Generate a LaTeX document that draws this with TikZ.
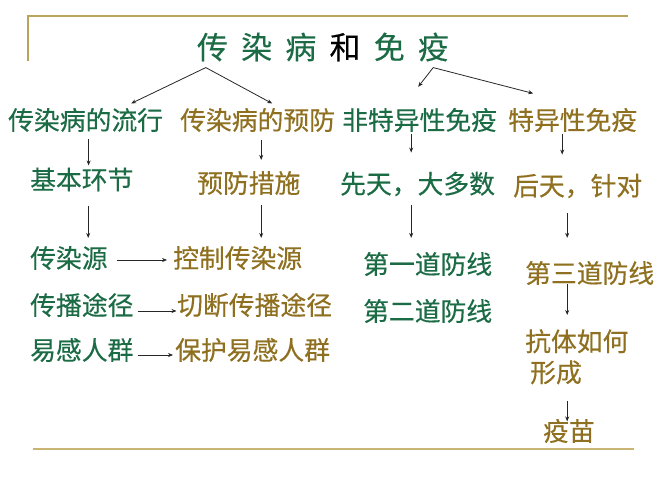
\documentclass[tikz,border=0pt]{standalone}
\usepackage{fontspec}
\setmainfont{Noto Sans CJK SC}
\newfontfamily\lblfont[FakeBold=0.35]{Noto Sans CJK SC}
\usetikzlibrary{calc,arrows.meta}
\definecolor{cgreen}{HTML}{1B6B45}
\definecolor{cgold}{HTML}{8F7020}
\definecolor{cline}{HTML}{B9A45A}
\definecolor{clinetwo}{HTML}{C9B474}
\begin{document}
\begin{tikzpicture}[x=1pt,y=-1pt,
 lbl/.style={inner sep=0pt,anchor=west,font=\lblfont\fontsize{25.8}{31}\selectfont},
 gr/.style={lbl,text=cgreen},
 go/.style={lbl,text=cgold},
 arr/.style={draw=black!85,line width=0.8pt,-{Stealth[length=5pt,width=4pt]}}]
\useasboundingbox (0,0) rectangle (667,500);
% frame lines
\draw[cline,line width=1.5pt] (28,61) -- (28,16) -- (628,16);
\draw[clinetwo,line width=2.5pt] (33,449) -- (634,449);
% title
\node[inner sep=0pt,font=\lblfont\fontsize{31}{36}\selectfont,text=cgreen] (title) at (323,47)
 {传\hspace{13.2pt}染\hspace{13.2pt}病\hspace{13.2pt}\textcolor{black}{和}\hspace{13.2pt}免\hspace{13.2pt}疫};
% row 1
\node[gr] (r1a) at (8,120) {传染病的流行};
\node[go] (r1b) at (180,120) {传染病的预防};
\node[gr] (r1c) at (342,120) {非特异性免疫};
\node[go] (r1d) at (508,120) {特异性免疫};
% row 2
\node[gr] (r2a) at (30,179.5) {基本环节};
\node[go] (r2b) at (197,183) {预防措施};
\node[gr] (r2c) at (340,184) {先天，大多数};
\node[go] (r2d) at (513,186) {后天，针对};
% rows 3-5
\node[gr] (s1) at (30,258) {传染源};
\node[go] (c1) at (173,258) {控制传染源};
\node[gr] (s2) at (30,305) {传播途径};
\node[go] (c2) at (177,305) {切断传播途径};
\node[gr] (s3) at (30,350) {易感人群};
\node[go] (c3) at (175,350) {保护易感人群};
\node[gr] (d1) at (363,264) {第一道防线};
\node[gr] (d2) at (363,311) {第二道防线};
\node[go] (d3) at (525,273) {第三道防线};
\node[go,anchor=north west,align=left] (k) at (525,329) {抗体如何\\\hspace*{5pt}形成};
\node[go] (v) at (543,431) {疫苗};
% title arrows
\coordinate (ap1) at ($(title.south west)+(9,6)$);
\coordinate (ap2) at ($(title.south east)+(-16,6)$);
\draw[arr] (ap1) -- ($(r1a.north)+(45.6,-4.4)$);
\draw[arr] (ap1) -- ($(r1b.north)+(14.6,-4.4)$);
\draw[arr] (ap2) -- ($(r1c.north)+(-1.4,-21)$);
\draw[arr] (ap2) -- ($(r1d.north)+(-39.5,-14.4)$);
% row1 -> row2
\draw[arr,shorten >=2pt] (r1a.south) ++(3,7) coordinate (a1) -- (a1 |- r2a.north);
\draw[arr,shorten >=11pt] (r1b.south) ++(3.6,7.5) coordinate (a2) -- (a2 |- r2b.north);
\draw[arr,shorten >=19pt] (r1c.south) ++(-8.4,1.5) coordinate (a3) -- (a3 |- r2c.north);
\draw[arr,shorten >=19pt] (r1d.south) ++(-10.5,1.5) coordinate (a4) -- (a4 |- r2d.north);
% row2 -> row3
\draw[arr,shorten >=8pt] (r2a.south) ++(6.4,14) coordinate (b1) -- (b1 |- s1.north);
\draw[arr,shorten >=8pt] (r2b.south) ++(12.4,10.4) coordinate (b2) -- (b2 |- c1.north);
\draw[arr,shorten >=14pt] (r2c.south) ++(-6.4,9) coordinate (b3) -- (b3 |- d1.north);
\draw[arr,shorten >=23pt] (r2d.south) ++(-10.5,14.4) coordinate (b4) -- (b4 |- d3.north);
% right column
\draw[arr,shorten >=14pt] (d3.south) ++(-22.5,-1) coordinate (e1) -- (e1 |- k.north);
\draw[arr,shorten >=-2.6pt] (k.south) ++(-9.6,16) coordinate (e2) -- (e2 |- v.north);
% horizontal arrows
\draw[arr,shorten >=6pt] (s1.east) ++(9.6,2) coordinate (h1) -- (h1 -| c1.west);
\draw[arr,shorten >=0.5pt] (s2.east) ++(4.8,6) coordinate (h2) -- (h2 -| c2.west);
\draw[arr,shorten >=2pt] (s3.east) ++(4.8,5) coordinate (h3) -- (h3 -| c3.west);
\end{tikzpicture}
\end{document}
